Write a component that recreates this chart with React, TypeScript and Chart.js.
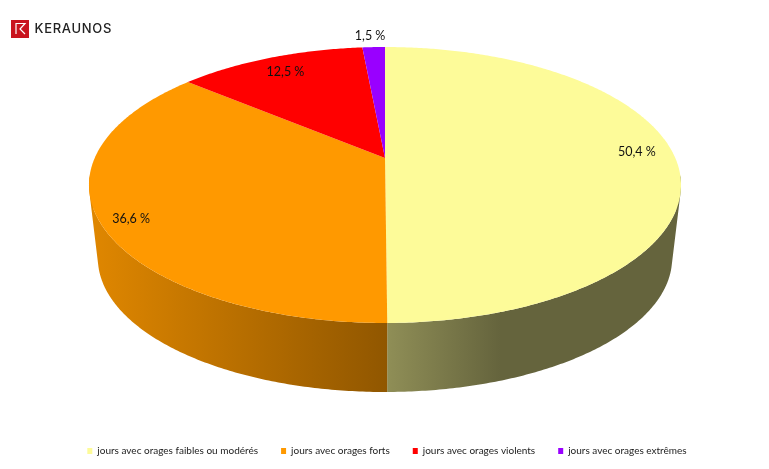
import React, { useEffect, useRef } from "react";
import { Chart, registerables } from "chart.js";

Chart.register(...registerables);

const categories = [
  "jours avec orages faibles ou modérés",
  "jours avec orages forts",
  "jours avec orages violents",
  "jours avec orages extrêmes",
];
const values = [50.4, 36.6, 12.5, 1.5];
const valueLabels = ["50,4 %", "36,6 %", "12,5 %", "1,5 %"];
const sliceColors = ["#FDFB99", "#FF9900", "#FF0000", "#9900FF"];
const labelRadius = [0.877, 0.906, 0.848, 1.134];
const labelTurn = [-3, -2.5, 0, -0.5];

const CX = 385;
const APEX_Y = 158;
const HX = 290.3;
const HY = 132.7;
const TILT = -0.1957;
const VANISH_Y = 2623;
const BOTTOM_SCALE = 0.97;

const rgb = (hex: string) => [1, 3, 5].map((i) => parseInt(hex.slice(i, i + 2), 16));
const shade = (hex: string, f: number) => {
  const [r, g, b] = rgb(hex);
  return `rgb(${Math.round(r * f)},${Math.round(g * f)},${Math.round(b * f)})`;
};

const project = (u: number, v: number) => {
  const w = 1 + TILT * v;
  return { x: CX + (HX * u) / w, y: APEX_Y + (HY * v) / w };
};
const lower = (p: { x: number; y: number }) => ({
  x: CX + (p.x - CX) * BOTTOM_SCALE,
  y: VANISH_Y + (p.y - VANISH_Y) * BOTTOM_SCALE,
});
const rimAngles = (a0: number, a1: number) => {
  const n = Math.max(2, Math.ceil(Math.abs(a1 - a0) / 0.01));
  const out: number[] = [];
  for (let i = 0; i <= n; i++) out.push(a0 + ((a1 - a0) * i) / n);
  return out;
};
const rim = (a0: number, a1: number) =>
  rimAngles(a0, a1).map((a) => project(Math.cos(a), Math.sin(a)));

const perspectivePie = {
  id: "perspectivePie",
  beforeDatasetDraw: () => false,
  afterDatasetsDraw(chart: Chart) {
    const ctx = chart.ctx;
    const arcs = chart.getDatasetMeta(0).data as any[];

    // side walls: swept quads, only along the front-facing part of the rim
    arcs.forEach((arc, i) => {
      const angles = rimAngles(arc.startAngle, arc.endAngle);
      const g = ctx.createLinearGradient(90, 0, 680, 0);
      const c = sliceColors[i];
      g.addColorStop(0, shade(c, 0.88));
      g.addColorStop((385 - 90) / 590, shade(c, 0.57));
      g.addColorStop((500 - 90) / 590, shade(c, 0.4));
      g.addColorStop(1, shade(c, 0.4));
      ctx.beginPath();
      for (let k = 0; k < angles.length - 1; k++) {
        if (Math.sin(angles[k]) < 0.12 || Math.sin(angles[k + 1]) < 0.12) continue;
        const a = project(Math.cos(angles[k]), Math.sin(angles[k]));
        const b = project(Math.cos(angles[k + 1]), Math.sin(angles[k + 1]));
        const ql = [a, b, lower(b), lower(a)];
        // keep one winding so the quads merge without seams
        const area = (b.x - a.x) * (ql[2].y - a.y) - (b.y - a.y) * (ql[2].x - a.x);
        const q = area >= 0 ? ql : [...ql].reverse();
        q.forEach((p, n) => (n ? ctx.lineTo(p.x, p.y) : ctx.moveTo(p.x, p.y)));
        ctx.closePath();
      }
      ctx.fillStyle = g;
      ctx.fill();
    });

    arcs.forEach((arc, i) => {
      const apex = project(0, 0);
      ctx.beginPath();
      ctx.moveTo(apex.x, apex.y);
      rim(arc.startAngle, arc.endAngle).forEach((p) => ctx.lineTo(p.x, p.y));
      ctx.closePath();
      ctx.fillStyle = sliceColors[i];
      ctx.fill();
    });

    ctx.font = "12.5px Lato";
    ctx.fillStyle = "#111";
    ctx.textAlign = "center";
    ctx.textBaseline = "middle";
    arcs.forEach((arc, i) => {
      const mid = (arc.startAngle + arc.endAngle) / 2 + (labelTurn[i] * Math.PI) / 180;
      const p = project(labelRadius[i] * Math.cos(mid), labelRadius[i] * Math.sin(mid));
      ctx.fillText(valueLabels[i], p.x, p.y + 0.5);
    });
  },
  afterDraw(chart: Chart) {
    const ctx = chart.ctx;
    ctx.save();
    ctx.fillStyle = "#C9141E";
    ctx.fillRect(11, 20, 18, 18);
    ctx.strokeStyle = "#fff";
    ctx.lineWidth = 1.2;
    ctx.beginPath();
    ctx.moveTo(16, 34);
    ctx.lineTo(16, 23.5);
    ctx.lineTo(25, 23.5);
    ctx.lineTo(20, 29);
    ctx.lineTo(25, 34);
    ctx.stroke();
    ctx.fillStyle = "#222";
    ctx.font = "500 13px Inter";
    (ctx as any).letterSpacing = "0.7px";
    ctx.textAlign = "left";
    ctx.textBaseline = "middle";
    ctx.fillText("KERAUNOS", 34.5, 29);
    ctx.restore();
  },
};

export default function App() {
  const ref = useRef<HTMLCanvasElement>(null);
  useEffect(() => {
    document.body.style.margin = "0";
    const chart = new Chart(ref.current!, {
      type: "pie",
      data: {
        labels: categories,
        datasets: [{ data: values, backgroundColor: sliceColors, borderWidth: 0 }],
      },
      options: {
        animation: false,
        responsive: false,
        layout: { padding: { bottom: 3, left: 5 } },
        plugins: {
          tooltip: { enabled: false },
          legend: {
            position: "bottom",
            labels: {
              boxWidth: 5,
              boxHeight: 6,
              padding: 23,
              color: "#222",
              font: { family: "Lato", size: 10 },
            },
          },
        },
      },
      plugins: [perspectivePie],
    });
    return () => chart.destroy();
  }, []);
  return (
    <div style={{ width: 769, height: 469, background: "#fff" }}>
      <canvas ref={ref} width={769} height={469} style={{ display: "block" }} />
    </div>
  );
}
